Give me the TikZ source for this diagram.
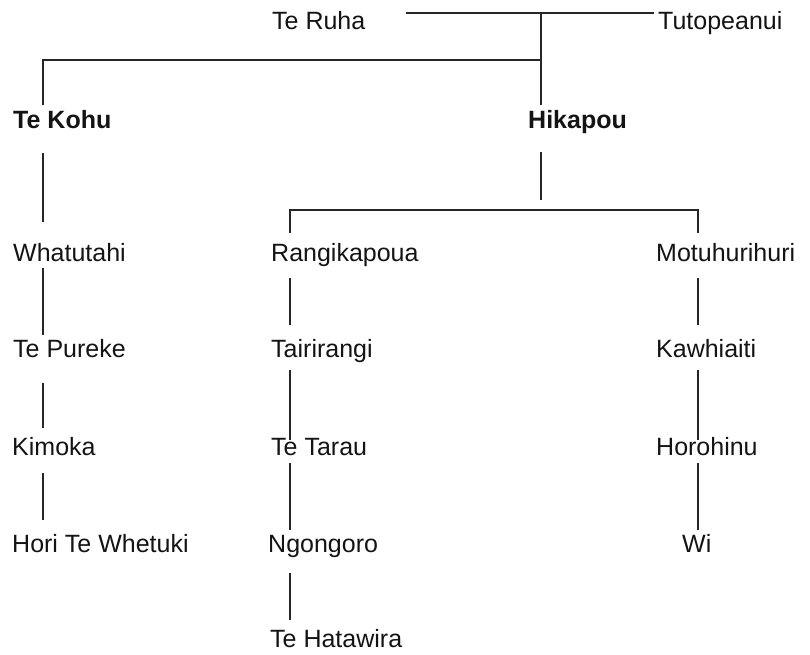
\documentclass[tikz,border=0pt]{standalone}
\usepackage{fontspec}
\setmainfont{Liberation Sans}
\usetikzlibrary{calc}
\begin{document}
\begin{tikzpicture}[x=1pt,y=-1pt,
  nm/.style={anchor=base west,inner sep=0pt,font=\fontsize{25}{30}\selectfont,text=black!92},
  nmb/.style={nm,font=\fontsize{25}{30}\selectfont\bfseries},
  ln/.style={line width=1.1pt,draw=black!85}]
\useasboundingbox[fill=white] (0,0) rectangle (810,654);
% columns
\coordinate (cA) at (43,0);
\coordinate (cB) at (290,0);
\coordinate (cC) at (698,0);
\coordinate (cH) at (541,0);
% generation 0
\node[nm] (teruha) at (272,29) {Te Ruha};
\node[nm] (tutope) at (658,29) {Tutopeanui};
% generation 1
\node[nmb] (tekohu) at (13,128) {Te Kohu};
\node[nmb] (hikapou) at (528,128) {Hikapou};
% column A
\node[nm] (whatutahi) at (13,261) {Whatutahi};
\node[nm] (tepureke) at (13,357) {Te Pureke};
\node[nm] (kimoka) at (12,455) {Kimoka};
\node[nm] (hori) at (12,552) {Hori Te Whetuki};
% column B
\node[nm] (rangi) at (271,261) {Rangikapoua};
\node[nm] (tairi) at (271,357) {Tairirangi};
\node[nm] (tetarau) at (271,455) {Te Tarau};
\node[nm] (ngongoro) at (268,552) {Ngongoro};
\node[nm] (tehata) at (270,647) {Te Hatawira};
% column C
\node[nm] (motu) at (656,261) {Motuhurihuri};
\node[nm] (kawhi) at (656,357) {Kawhiaiti};
\node[nm] (horo) at (656,455) {Horohinu};
\node[nm] (wi) at (682,552) {Wi};
% junctions
\coordinate (m2) at (541,13);
\coordinate (j1) at (43,60);
\coordinate (j2) at (541,60);
\coordinate (h2) at (541,200);
\coordinate (k1) at (290,210);
\coordinate (k2) at (698,210);
% marriage line
\draw[ln] ($(teruha.base east)+(40,-16)$) -- ($(tutope.base west)+(-4,-16)$);
% descent to children of Te Ruha
\draw[ln] (m2) -- ($(hikapou.base -| cH)+(0,-23)$);
\draw[ln] ($(tekohu.base -| cA)+(0,-23)$) -- (j1) -- (j2);
% column A
\draw[ln] ($(tekohu.base -| cA)+(0,25)$) -- ($(whatutahi.base -| cA)+(0,-39)$);
\draw[ln] ($(whatutahi.base -| cA)+(0,7)$) -- ($(tepureke.base -| cA)+(0,-22)$);
\draw[ln] ($(tepureke.base -| cA)+(0,26)$) -- ($(kimoka.base -| cA)+(0,-27)$);
\draw[ln] ($(kimoka.base -| cA)+(0,18)$) -- ($(hori.base -| cA)+(0,-32)$);
% Hikapou to children
\draw[ln] ($(hikapou.base -| cH)+(0,24)$) -- (h2);
\draw[ln] ($(rangi.base -| cB)+(0,-28)$) -- (k1) -- (k2) -- ($(motu.base -| cC)+(0,-28)$);
% column B
\draw[ln] ($(rangi.base -| cB)+(0,17)$) -- ($(tairi.base -| cB)+(0,-32)$);
\draw[ln] ($(tairi.base -| cB)+(0,13)$) -- ($(tetarau.base -| cB)+(0,-15)$);
\draw[ln] ($(tetarau.base -| cB)+(0,8)$) -- ($(ngongoro.base -| cB)+(0,-22)$);
\draw[ln] ($(ngongoro.base -| cB)+(0,21)$) -- ($(tehata.base -| cB)+(0,-27)$);
% column C
\draw[ln] ($(motu.base -| cC)+(0,17)$) -- ($(kawhi.base -| cC)+(0,-32)$);
\draw[ln] ($(kawhi.base -| cC)+(0,13)$) -- ($(horo.base -| cC)+(0,-15)$);
\draw[ln] ($(horo.base -| cC)+(0,8)$) -- ($(wi.base -| cC)+(0,-22)$);
\end{tikzpicture}
\end{document}
